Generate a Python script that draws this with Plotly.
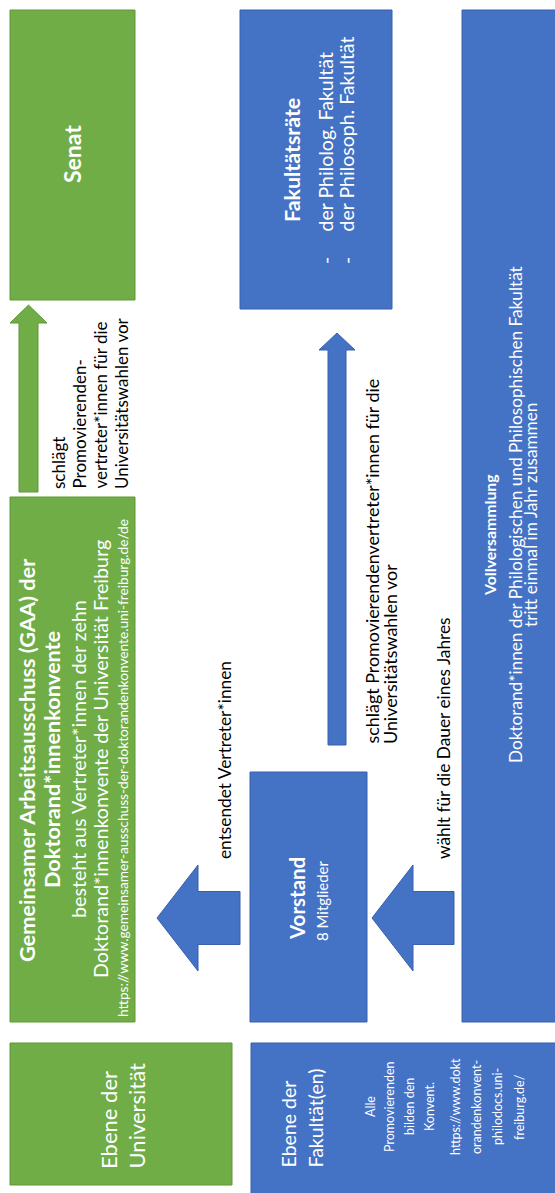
import plotly.graph_objects as go

W, H = 555, 1193
FONT = "Lato"
GREEN, GREEN_EDGE = "#70AD47", "#5E9739"
BLUE, BLUE_EDGE = "#4472C4", "#3961AC"
WHITE, BLACK = "#FFFFFF", "#000000"

# ---------------- text content ----------------
senat_text = ["Senat"]
green_arrow_text = ["schlägt", "Promovierenden-", "vertreter*innen für die", "Universitätswahlen vor"]
gaa_title = ["Gemeinsamer Arbeitsausschuss (GAA) der", "Doktorand*innenkonvente"]
gaa_body = ["besteht aus Vertreter*innen der zehn", "Doktorand*innenkonvente der Universität Freiburg"]
gaa_url = ["https://www.gemeinsamer-ausschuss-der-doktorandenkonvente.uni-freiburg.de/de"]
ebene_uni_text = ["Ebene der", "Universität"]
fakrat_title = ["Fakultätsräte"]
fakrat_items = ["der Philolog. Fakultät", "der Philosoph. Fakultät"]
up_arrow_text = ["schlägt Promovierendenvertreter*innen für die", "Universitätswahlen vor"]
entsendet_text = ["entsendet Vertreter*innen"]
waehlt_text = ["wählt für die Dauer eines Jahres"]
vorstand_title = ["Vorstand"]
vorstand_body = ["8 Mitglieder"]
vollv_title = ["Vollversammlung"]
vollv_body = ["Doktorand*innen der Philologischen und Philosophischen Fakultät",
              "tritt einmal im Jahr zusammen"]
ebene_fak_text = ["Ebene der", "Fakultät(en)"]
ebene_fak_body = ["Alle", "Promovierenden", "bilden den", "Konvent.", "https://www.dokt",
                  "orandenkonvent-", "philodocs.uni-", "freiburg.de/"]

# ---------------- geometry (pixel space, y downward) ----------------
boxes = [
    (10, 10, 135, 300, GREEN, GREEN_EDGE),      # Senat
    (10, 497, 135, 1022, GREEN, GREEN_EDGE),    # GAA
    (10, 1043, 232, 1185, GREEN, GREEN_EDGE),   # Ebene der Universität
    (240, 10, 392, 309, BLUE, BLUE_EDGE),       # Fakultätsräte
    (250, 772, 367, 1022, BLUE, BLUE_EDGE),     # Vorstand
    (462, 10, 575, 1022, BLUE, BLUE_EDGE),      # Vollversammlung
    (251, 1043, 575, 1215, BLUE, BLUE_EDGE),    # Ebene der Fakultät(en)
]

def up_arrow(xc, tip, base, bottom, head_hw, shaft_hw):
    return (f"M {xc-shaft_hw},{bottom} L {xc-shaft_hw},{base} L {xc-head_hw},{base} "
            f"L {xc},{tip} L {xc+head_hw},{base} L {xc+shaft_hw},{base} L {xc+shaft_hw},{bottom} Z")

def left_arrow(yc, tip, base, end, head_hh, shaft_hh):
    return (f"M {end},{yc-shaft_hh} L {base},{yc-shaft_hh} L {base},{yc-head_hh} "
            f"L {tip},{yc} L {base},{yc+head_hh} L {base},{yc+shaft_hh} L {end},{yc+shaft_hh} Z")

arrows = [
    (up_arrow(28.5, 305, 323, 492, 18.5, 9.5), GREEN, GREEN_EDGE),
    (up_arrow(337, 333, 350, 745, 18, 9), BLUE, BLUE_EDGE),
    (left_arrow(918, 157, 198, 240, 53, 26.5), BLUE, BLUE_EDGE),
    (left_arrow(918, 372, 413, 454, 53, 26.5), BLUE, BLUE_EDGE),
]

fig = go.Figure()
fig.add_trace(go.Scatter(x=[0, W], y=[0, H], mode="markers", marker=dict(opacity=0),
                         hoverinfo="skip", showlegend=False))

shapes = []
for x0, y0, x1, y1, fc, lc in boxes:
    shapes.append(dict(type="rect", xref="x", yref="y", x0=x0, y0=y0, x1=x1, y1=y1,
                       fillcolor=fc, line=dict(color=lc, width=1), layer="below"))
for p, fc, lc in arrows:
    shapes.append(dict(type="path", xref="x", yref="y", path=p, fillcolor=fc,
                       line=dict(color=lc, width=1), layer="below"))

annotations = []

def txt(x, y, s, size, color=WHITE, bold=False, yanchor="middle"):
    if bold:
        s = f"<b>{s}</b>"
    annotations.append(dict(x=x, y=y, xref="x", yref="y", text=s, showarrow=False,
                            textangle=-90, xanchor="center", yanchor=yanchor,
                            font=dict(family=FONT, size=size, color=color)))

# Senat
txt(72, 154, senat_text[0], 23, bold=True)
# green arrow caption
for xi, s in zip([58, 79, 100, 121], green_arrow_text):
    txt(xi, 491, s, 17, color=BLACK, yanchor="bottom")
# GAA
for xi, s in zip([27, 52], gaa_title):
    txt(xi, 760, s, 21.7, bold=True)
for xi, s in zip([78, 100], gaa_body):
    txt(xi, 759, s, 19.7)
txt(122, 768, gaa_url[0], 13.7)
# Ebene der Universität
for xi, s in zip([108, 136], ebene_uni_text):
    txt(xi, 1171, s, 22, yanchor="bottom")
# Fakultätsräte
txt(292, 160, fakrat_title[0], 21.4, bold=True)
for xi, s in zip([325, 346], fakrat_items):
    txt(xi, 234, s, 19.5, yanchor="bottom")
    txt(xi, 261, "-", 19.5)
# up-arrow caption
for xi, s in zip([371, 390], up_arrow_text):
    txt(xi, 746, s, 17.9, color=BLACK, yanchor="bottom")
# side arrows captions
txt(224, 861, entsendet_text[0], 17.3, color=BLACK, yanchor="bottom")
txt(443, 861, waehlt_text[0], 17.3, color=BLACK, yanchor="bottom")
# Vorstand
txt(297, 899, vorstand_title[0], 20.5, bold=True)
txt(322, 901, vorstand_body[0], 15)
# Vollversammlung
txt(489, 535, vollv_title[0], 15.8, bold=True)
for xi, s in zip([515, 530], vollv_body):
    txt(xi, 515, s, 17.2)
# Ebene der Fakultät(en)
for xi, s in zip([288, 315], ebene_fak_text):
    txt(xi, 1170, s, 19.5, yanchor="bottom")
for xi, s in zip([370, 389, 409, 429, 455, 476, 497, 519], ebene_fak_body):
    txt(xi, 1107, s, 12.5)

fig.update_layout(
    width=W, height=H, margin=dict(l=0, r=0, t=0, b=0),
    paper_bgcolor="white", plot_bgcolor="white",
    xaxis=dict(range=[0, W], visible=False, fixedrange=True),
    yaxis=dict(range=[H, 0], visible=False, fixedrange=True),
    shapes=shapes, annotations=annotations, showlegend=False,
)
fig.write_html("out.html", config={"displayModeBar": False},
               post_script="document.body.style.margin='0';document.body.style.padding='0';")
